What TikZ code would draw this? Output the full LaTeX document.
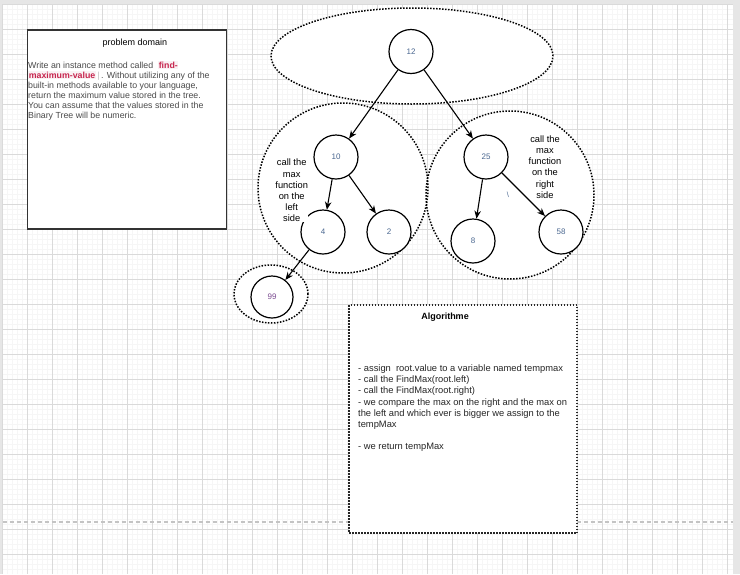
\documentclass[tikz,border=0pt]{standalone}
\usepackage{fontspec}
\setmainfont{Liberation Sans}
\usetikzlibrary{arrows.meta,shapes.geometric}

\definecolor{pageedge}{HTML}{E6E6E6}
\definecolor{gridmajor}{HTML}{DADADA}
\definecolor{gridminor}{HTML}{F6F6F6}
\definecolor{breakline}{HTML}{C4C4C4}
\definecolor{labelblue}{HTML}{4A6790}
\definecolor{leafpurple}{HTML}{7A4A90}
\definecolor{desctext}{HTML}{4A4A4A}
\definecolor{codered}{HTML}{C7254E}
\definecolor{codebg}{HTML}{F9F2F4}
\definecolor{boxedge}{HTML}{333333}

\newcommand{\codebit}[1]{{\setlength{\fboxsep}{0.6pt}\colorbox{codebg}{\textcolor{codered}{\bfseries #1}}}}

\begin{document}
\begin{tikzpicture}[x=1pt,y=-1pt,
    treenode/.style={circle, draw, fill=white, line width=1.2pt, minimum size=44pt, inner sep=0pt, font=\fontsize{8}{9}\selectfont, text=labelblue},
    zone/.style={draw, line width=1.5pt, dash pattern=on 1.5pt off 1.5pt, inner sep=0pt},
    zonefill/.style={fill=white, draw=none},
    zonerim/.style={draw=black},
    branch/.style={-{Stealth[length=8pt,width=6.5pt]}, line width=1.1pt},
    note/.style={align=center, fill=white, inner sep=0pt, font=\fontsize{9.3}{11.2}\selectfont}]
    \pgfmathsetmacro{\gridl}{2.7}
    \pgfmathsetmacro{\gridt}{4.3}
    \pgfmathsetmacro{\gridr}{732.7}
    \useasboundingbox (0,0) rectangle (740,574);
    % page and grid
    \fill[pageedge] (0,0) rectangle (740,574);
    \fill[white] (\gridl,\gridt) rectangle (\gridr,574);
    \foreach \x in {7.7,12.7,...,730} \draw[gridminor, line width=0.5pt] (\x,\gridt) -- (\x,574);
    \foreach \y in {9.3,14.3,...,574} \draw[gridminor, line width=0.5pt] (\gridl,\y) -- (\gridr,\y);
    \foreach \x in {2.7,27.7,...,735} \draw[gridmajor, line width=0.7pt] (\x,\gridt) -- (\x,574);
    \foreach \y in {4.3,29.3,...,574} \draw[gridmajor, line width=0.7pt] (\gridl,\y) -- (\gridr,\y);
    \draw[breakline, line width=1.2pt, dash pattern=on 4pt off 3pt] (\gridl,522) -- (\gridr,522);

    % problem domain
    \node[draw=boxedge, fill=white, line width=1.8pt, minimum width=199pt, minimum height=199pt, inner sep=0pt] (domainbox) at (127,129.5) {};
    \node[font=\fontsize{9}{10}\selectfont, inner sep=0pt] (domaintitle) at (135,42.7) {problem domain};
    \node[anchor=north west, align=left, text=desctext, inner sep=0pt, font=\fontsize{8.8}{10.1}\selectfont] (task) at (28,61)
        {Write an instance method called \ \codebit{find-}\\
         \codebit{maximum-value}\,{\color{lightgray}|}\,. Without utilizing any of the\\
         built-in methods available to your language,\\
         return the maximum value stored in the tree.\\
         You can assume that the values stored in the\\
         Binary Tree will be numeric.};

    % zones round the sub trees (white first, then the dotted rims)
    \foreach \rim in {zonefill, zonerim} {
        \node[zone, \rim, ellipse, minimum width=282pt, minimum height=96pt] (rootzone) at (412,56) {};
        \node[zone, \rim, circle, minimum size=170pt] (leftzone) at (343,188) {};
        \node[zone, \rim, circle, minimum size=168pt] (rightzone) at (510,195) {};
        \node[zone, \rim, ellipse, minimum width=74pt, minimum height=58pt] (leafzone) at (271,294) {};
    }

    % tree
    \node[treenode] (n12) at (411,51.5) {12};
    \node[treenode] (n10) at (336,157) {10};
    \node[treenode] (n25) at (486,157) {25};
    \node[treenode] (n4) at (323,232) {4};
    \node[treenode] (n2) at (389,232) {2};
    \node[treenode] (n8) at (473,241) {8};
    \node[treenode] (n58) at (561,232) {58};
    \node[treenode, minimum size=42pt, text=leafpurple] (n99) at (272,297) {99};

    \draw[branch] (n12) -- (n10);
    \draw[branch] (n12) -- (n25);
    \draw[branch] (n10) -- (n4);
    \draw[branch] (n10) -- (n2);
    \draw[branch] (n25) -- (n8);
    \draw[branch] (n25) -- (n58);
    \draw[branch] (n4) -- (n99);

    \node[note] (leftnote) at (291.7,190.5) {call the\\max\\function\\on the\\left\\side};
    \node[note] (rightnote) at (545,167) {call the\\max\\function\\on the\\right\\side};
    \node[font=\fontsize{7.5}{9}\selectfont, text=labelblue, inner sep=0pt] (slash) at (508,195) {\textbackslash};

    % algorithm
    \node[zone, draw=black!85, fill=white, minimum width=228pt, minimum height=228pt] (algobox) at (463,419) {};
    \node[font=\bfseries\fontsize{9}{10}\selectfont, inner sep=0pt] (algotitle) at (445,317) {Algorithme};
    \node[anchor=north west, align=left, text=black!85, inner sep=0pt, font=\fontsize{9.35}{11.2}\selectfont] (algosteps) at (358,364.5)
        {- assign \ root.value to a variable named tempmax\\
         - call the FindMax(root.left)\\
         - call the FindMax(root.right)\\
         - we compare the max on the right and the max on\\
         the left and which ever is bigger we assign to the\\
         tempMax\\[11.2pt]
         - we return tempMax};
\end{tikzpicture}
\end{document}
